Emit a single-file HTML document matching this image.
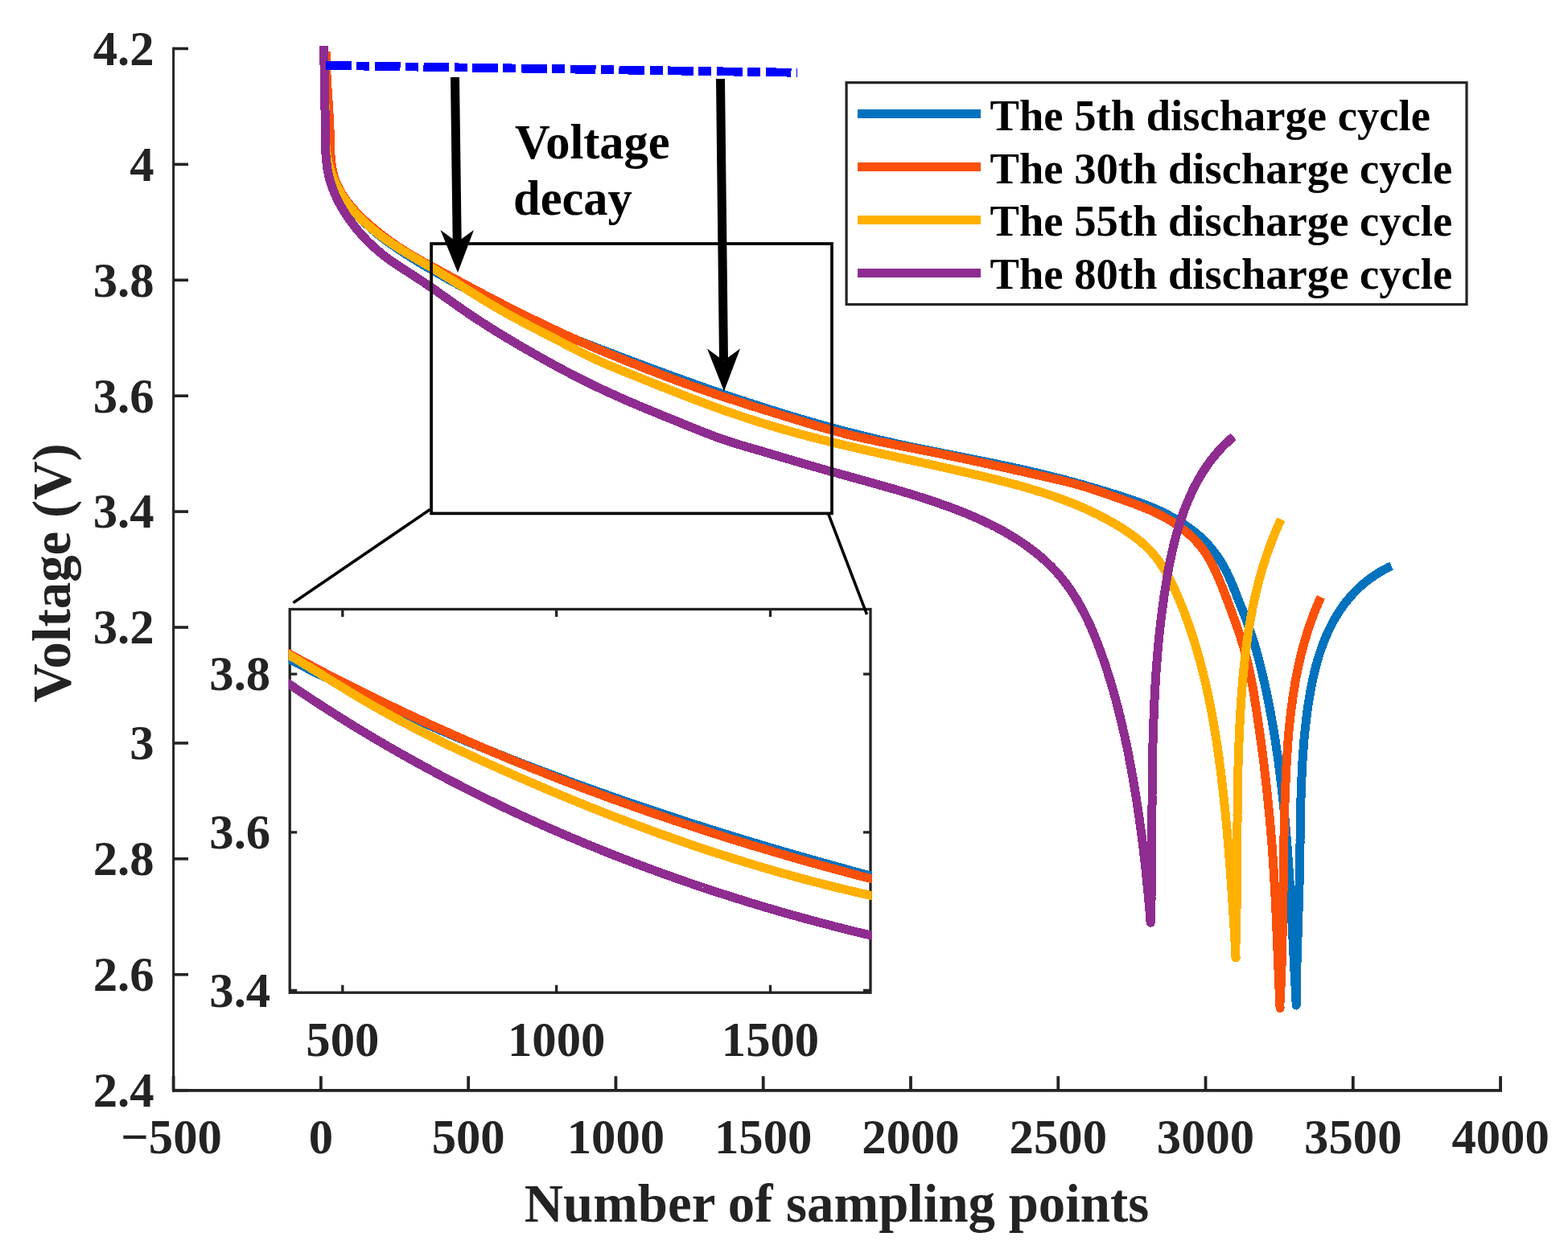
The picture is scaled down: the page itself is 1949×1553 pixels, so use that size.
<!DOCTYPE html>
<html><head><meta charset="utf-8"><title>Voltage decay plot</title>
<style>html,body{margin:0;padding:0;background:#fff;} svg{display:block;}</style>
</head><body>
<svg width="1949" height="1553" viewBox="0 0 1949 1553"><g stroke="#232323" fill="none">
<path d="M215.6,58.650000000000006V1357.6000000000001" stroke-width="3.0"/>
<path d="M214.1,1355.9H1867.0" stroke-width="3.8"/>
<path d="M215.6,60.45H234.0" stroke-width="3.6"/>
<path d="M215.6,204.37H234.0" stroke-width="3.6"/>
<path d="M215.6,348.28H234.0" stroke-width="3.6"/>
<path d="M215.6,492.20H234.0" stroke-width="3.6"/>
<path d="M215.6,636.12H234.0" stroke-width="3.6"/>
<path d="M215.6,780.03H234.0" stroke-width="3.6"/>
<path d="M215.6,923.95H234.0" stroke-width="3.6"/>
<path d="M215.6,1067.87H234.0" stroke-width="3.6"/>
<path d="M215.6,1211.78H234.0" stroke-width="3.6"/>
<path d="M215.6,1355.70H234.0" stroke-width="3.6"/>
<path d="M215.60,1355.7V1338.1000000000001" stroke-width="3.8"/>
<path d="M398.88,1355.7V1338.1000000000001" stroke-width="3.8"/>
<path d="M582.16,1355.7V1338.1000000000001" stroke-width="3.8"/>
<path d="M765.43,1355.7V1338.1000000000001" stroke-width="3.8"/>
<path d="M948.71,1355.7V1338.1000000000001" stroke-width="3.8"/>
<path d="M1131.99,1355.7V1338.1000000000001" stroke-width="3.8"/>
<path d="M1315.27,1355.7V1338.1000000000001" stroke-width="3.8"/>
<path d="M1498.54,1355.7V1338.1000000000001" stroke-width="3.8"/>
<path d="M1681.82,1355.7V1338.1000000000001" stroke-width="3.8"/>
<path d="M1865.10,1355.7V1338.1000000000001" stroke-width="3.8"/>
</g>
<g font-family="'Liberation Serif', 'Times New Roman', serif" font-weight="bold" font-size="60.7" fill="#232323" text-anchor="end">
<text x="191.6" y="80.8">4.2</text>
<text x="191.6" y="224.7">4</text>
<text x="191.6" y="368.6">3.8</text>
<text x="191.6" y="512.5">3.6</text>
<text x="191.6" y="656.4">3.4</text>
<text x="191.6" y="800.3">3.2</text>
<text x="191.6" y="944.2">3</text>
<text x="191.6" y="1088.2">2.8</text>
<text x="191.6" y="1232.1">2.6</text>
<text x="191.6" y="1376.0">2.4</text>
</g>
<g font-family="'Liberation Serif', 'Times New Roman', serif" font-weight="bold" font-size="60.7" fill="#232323" text-anchor="middle">
<text x="213.1" y="1434.3">−500</text>
<text x="398.9" y="1434.3">0</text>
<text x="582.2" y="1434.3">500</text>
<text x="765.4" y="1434.3">1000</text>
<text x="948.7" y="1434.3">1500</text>
<text x="1132.0" y="1434.3">2000</text>
<text x="1315.3" y="1434.3">2500</text>
<text x="1498.5" y="1434.3">3000</text>
<text x="1681.8" y="1434.3">3500</text>
<text x="1865.1" y="1434.3">4000</text>
</g>
<text x="1040" y="1519" font-family="'Liberation Serif', 'Times New Roman', serif" font-weight="bold" font-size="66.8" fill="#232323" text-anchor="middle">Number of sampling points</text>
<text transform="translate(87.3,712.4) rotate(-90)" x="0" y="0" font-family="'Liberation Serif', 'Times New Roman', serif" font-weight="bold" font-size="66.8" fill="#232323" text-anchor="middle">Voltage (V)</text>
<g fill="none" stroke-width="11" stroke-linejoin="round" stroke-linecap="butt" shape-rendering="crispEdges">
<path stroke="#0072BD" d="M403.3,70.0 L403.5,74.0 L403.7,78.0 L403.8,82.0 L404.0,86.0 L404.1,90.0 L404.2,94.0 L404.2,98.0 L404.3,102.0 L404.3,106.0 L404.4,110.1 L404.4,114.1 L404.4,118.1 L404.4,122.1 L404.4,126.1 L404.4,130.1 L404.4,134.1 L404.4,138.2 L404.5,142.2 L404.5,146.2 L404.6,150.2 L404.6,154.2 L404.7,158.3 L404.8,162.3 L405.0,166.3 L405.1,170.3 L405.3,174.3 L405.5,178.4 L405.8,182.4 L406.1,186.4 L406.5,190.4 L406.9,194.4 L407.4,198.4 L408.1,202.3 L408.8,206.2 L409.7,210.1 L410.8,213.9 L412.0,217.7 L413.3,221.4 L414.8,225.1 L416.4,228.7 L418.1,232.3 L420.0,235.8 L421.9,239.3 L424.0,242.7 L426.2,246.1 L428.5,249.3 L431.0,252.5 L433.5,255.7 L436.1,258.8 L438.7,261.8 L441.4,264.8 L444.2,267.7 L447.0,270.6 L449.8,273.4 L452.7,276.2 L455.6,278.9 L458.6,281.6 L461.6,284.3 L464.6,286.9 L467.7,289.4 L470.8,291.9 L473.9,294.4 L477.1,296.9 L480.3,299.3 L483.5,301.6 L486.8,304.0 L490.1,306.3 L493.4,308.5 L496.7,310.8 L500.0,313.0 L503.4,315.2 L506.8,317.4 L510.2,319.5 L513.6,321.7 L517.0,323.8 L520.4,325.9 L523.9,327.9 L527.3,330.0 L530.8,332.1 L534.2,334.1 L537.7,336.1 L541.2,338.1 L544.7,340.1 L548.2,342.1 L551.6,344.1 L555.1,346.0 L558.6,348.0 L562.1,349.9 L565.7,351.8 L569.2,353.8 L572.7,355.7 L576.2,357.6 L579.8,359.4 L583.3,361.3 L586.8,363.2 L590.4,365.0 L594.0,366.9 L597.5,368.7 L601.1,370.5 L604.7,372.3 L608.2,374.1 L611.8,375.9 L615.4,377.7 L619.0,379.5 L622.6,381.2 L626.2,383.0 L629.8,384.7 L633.4,386.4 L637.1,388.2 L640.7,389.9 L644.3,391.6 L648.0,393.3 L651.6,395.0 L655.3,396.6 L658.9,398.3 L662.6,399.9 L666.2,401.6 L669.9,403.2 L673.6,404.8 L677.2,406.4 L680.9,408.0 L684.6,409.6 L688.3,411.1 L692.0,412.7 L695.7,414.2 L699.4,415.7 L703.1,417.3 L706.9,418.8 L710.6,420.2 L714.3,421.7 L718.0,423.2 L721.8,424.7 L725.5,426.1 L729.2,427.6 L733.0,429.0 L736.7,430.5 L740.5,431.9 L744.2,433.3 L747.9,434.8 L751.7,436.2 L755.4,437.6 L759.2,439.1 L762.9,440.5 L766.7,441.9 L770.4,443.4 L774.2,444.8 L777.9,446.2 L781.7,447.6 L785.4,449.0 L789.2,450.5 L792.9,451.9 L796.7,453.3 L800.4,454.7 L804.2,456.1 L808.0,457.5 L811.7,458.9 L815.5,460.3 L819.3,461.7 L823.0,463.1 L826.8,464.4 L830.6,465.8 L834.3,467.2 L838.1,468.6 L841.9,469.9 L845.6,471.3 L849.4,472.7 L853.2,474.0 L857.0,475.4 L860.8,476.7 L864.5,478.1 L868.3,479.4 L872.1,480.8 L875.9,482.1 L879.7,483.4 L883.5,484.7 L887.3,486.1 L891.0,487.4 L894.8,488.7 L898.6,490.0 L902.4,491.3 L906.2,492.6 L910.0,493.8 L913.8,495.1 L917.6,496.4 L921.5,497.7 L925.3,498.9 L929.1,500.2 L932.9,501.4 L936.7,502.7 L940.5,503.9 L944.3,505.2 L948.1,506.4 L952.0,507.6 L955.8,508.8 L959.6,510.0 L963.4,511.2 L967.3,512.4 L971.1,513.6 L974.9,514.8 L978.8,515.9 L982.6,517.1 L986.4,518.3 L990.3,519.4 L994.1,520.6 L998.0,521.7 L1001.8,522.8 L1005.7,523.9 L1009.5,525.0 L1013.4,526.1 L1017.2,527.2 L1021.1,528.3 L1025.0,529.4 L1028.8,530.5 L1032.7,531.5 L1036.6,532.6 L1040.4,533.6 L1044.3,534.7 L1048.2,535.7 L1052.0,536.7 L1055.9,537.7 L1059.8,538.7 L1063.7,539.7 L1067.6,540.7 L1071.5,541.6 L1075.4,542.6 L1079.3,543.6 L1083.2,544.5 L1087.1,545.4 L1091.0,546.4 L1094.9,547.3 L1098.8,548.2 L1102.7,549.1 L1106.6,549.9 L1110.5,550.8 L1114.4,551.7 L1118.3,552.5 L1122.3,553.4 L1126.2,554.2 L1130.1,555.1 L1134.0,555.9 L1138.0,556.7 L1141.9,557.5 L1145.8,558.3 L1149.8,559.1 L1153.7,559.9 L1157.6,560.7 L1161.6,561.5 L1165.5,562.3 L1169.4,563.1 L1173.4,563.9 L1177.3,564.6 L1181.3,565.4 L1185.2,566.2 L1189.1,567.0 L1193.1,567.8 L1197.0,568.5 L1201.0,569.3 L1204.9,570.1 L1208.8,570.9 L1212.8,571.7 L1216.7,572.5 L1220.6,573.2 L1224.6,574.0 L1228.5,574.8 L1232.4,575.6 L1236.4,576.4 L1240.3,577.3 L1244.2,578.1 L1248.2,578.9 L1252.1,579.7 L1256.0,580.6 L1259.9,581.4 L1263.8,582.3 L1267.8,583.1 L1271.7,584.0 L1275.6,584.9 L1279.5,585.8 L1283.4,586.7 L1287.3,587.6 L1291.2,588.5 L1295.1,589.4 L1299.0,590.4 L1302.9,591.3 L1306.8,592.3 L1310.7,593.3 L1314.5,594.3 L1318.4,595.3 L1322.3,596.3 L1326.2,597.3 L1330.0,598.4 L1333.9,599.4 L1337.8,600.5 L1341.6,601.6 L1345.5,602.6 L1349.3,603.7 L1353.2,604.9 L1357.0,606.0 L1360.9,607.1 L1364.7,608.3 L1368.6,609.4 L1372.4,610.6 L1376.2,611.7 L1380.1,612.9 L1383.9,614.1 L1387.7,615.3 L1391.6,616.5 L1395.4,617.8 L1399.2,619.0 L1403.0,620.3 L1406.8,621.5 L1410.6,622.8 L1414.4,624.2 L1418.1,625.5 L1421.9,626.9 L1425.6,628.4 L1429.4,629.9 L1433.1,631.4 L1436.7,633.0 L1440.4,634.6 L1444.0,636.3 L1447.6,638.1 L1451.2,639.9 L1454.7,641.8 L1458.2,643.7 L1461.7,645.7 L1465.2,647.8 L1468.6,649.9 L1471.9,652.1 L1475.3,654.4 L1478.5,656.7 L1481.8,659.1 L1484.9,661.6 L1488.1,664.2 L1491.1,666.8 L1494.0,669.5 L1496.9,672.3 L1499.7,675.2 L1502.4,678.1 L1505.0,681.1 L1507.6,684.2 L1510.0,687.4 L1512.4,690.6 L1514.7,693.9 L1516.8,697.2 L1518.9,700.6 L1520.9,704.1 L1522.9,707.6 L1524.7,711.1 L1526.4,714.7 L1528.1,718.4 L1529.7,722.0 L1531.3,725.7 L1532.8,729.5 L1534.3,733.2 L1535.8,736.9 L1537.3,740.7 L1538.7,744.4 L1540.2,748.1 L1541.7,751.9 L1543.2,755.6 L1544.7,759.3 L1546.2,763.1 L1547.6,766.8 L1549.1,770.6 L1550.5,774.3 L1551.8,778.1 L1553.1,781.9 L1554.4,785.7 L1555.7,789.5 L1556.9,793.3 L1558.1,797.1 L1559.3,801.0 L1560.4,804.8 L1561.5,808.7 L1562.6,812.5 L1563.7,816.4 L1564.7,820.3 L1565.7,824.2 L1566.7,828.1 L1567.6,832.0 L1568.6,835.9 L1569.5,839.8 L1570.4,843.7 L1571.3,847.6 L1572.2,851.5 L1573.0,855.4 L1573.9,859.4 L1574.7,863.3 L1575.5,867.2 L1576.3,871.1 L1577.1,875.1 L1577.9,879.0 L1578.6,882.9 L1579.4,886.9 L1580.1,890.8 L1580.8,894.8 L1581.5,898.7 L1582.2,902.7 L1582.9,906.6 L1583.5,910.6 L1584.2,914.5 L1584.8,918.5 L1585.4,922.4 L1586.0,926.4 L1586.6,930.4 L1587.2,934.3 L1587.8,938.3 L1588.4,942.3 L1588.9,946.2 L1589.4,950.2 L1590.0,954.2 L1590.5,958.1 L1591.0,962.1 L1591.5,966.1 L1592.0,970.1 L1592.5,974.1 L1592.9,978.0 L1593.4,982.0 L1593.8,986.0 L1594.3,990.0 L1594.7,994.0 L1595.1,998.0 L1595.5,1002.0 L1595.9,1005.9 L1596.3,1009.9 L1596.7,1013.9 L1597.1,1017.9 L1597.4,1021.9 L1597.8,1025.9 L1598.1,1029.9 L1598.5,1033.9 L1598.8,1037.9 L1599.2,1041.9 L1599.5,1045.9 L1599.8,1049.9 L1600.1,1053.9 L1600.4,1057.9 L1600.7,1061.9 L1601.0,1065.9 L1601.3,1069.9 L1601.6,1073.9 L1601.9,1077.9 L1602.1,1081.9 L1602.4,1085.9 L1602.7,1090.0 L1602.9,1094.0 L1603.2,1098.0 L1603.4,1102.0 L1603.7,1106.0 L1603.9,1110.0 L1604.1,1114.0 L1604.4,1118.0 L1604.6,1122.0 L1604.8,1126.0 L1605.0,1130.0 L1605.3,1134.0 L1605.5,1138.1 L1605.7,1142.1 L1605.9,1146.1 L1606.1,1150.1 L1606.3,1154.1 L1606.5,1158.1 L1606.7,1162.1 L1606.9,1166.1 L1607.1,1170.1 L1607.3,1174.1 L1607.5,1178.1 L1607.7,1182.1 L1607.9,1186.1 L1608.1,1190.1 L1608.3,1194.1 L1608.5,1198.2 L1608.7,1202.2 L1608.9,1206.2 L1609.1,1210.2 L1609.3,1214.2 L1609.6,1218.2 L1609.8,1222.2 L1610.0,1226.2 L1610.2,1230.2 L1610.4,1234.1 L1610.6,1238.1 L1610.8,1242.1 L1611.0,1246.1 L1611.2,1250.1 L1611.1,1246.1 L1611.2,1242.1 L1611.2,1238.1 L1611.2,1234.1 L1611.3,1230.1 L1611.4,1226.1 L1611.4,1222.1 L1611.5,1218.1 L1611.6,1214.0 L1611.7,1210.0 L1611.8,1206.0 L1611.9,1202.0 L1612.0,1197.9 L1612.1,1193.9 L1612.2,1189.9 L1612.3,1185.8 L1612.5,1181.8 L1612.6,1177.8 L1612.7,1173.7 L1612.8,1169.7 L1613.0,1165.7 L1613.1,1161.6 L1613.2,1157.6 L1613.4,1153.5 L1613.5,1149.5 L1613.6,1145.4 L1613.8,1141.4 L1613.9,1137.4 L1614.0,1133.3 L1614.2,1129.3 L1614.3,1125.2 L1614.4,1121.2 L1614.5,1117.1 L1614.7,1113.1 L1614.8,1109.1 L1614.9,1105.0 L1615.0,1101.0 L1615.1,1097.0 L1615.2,1092.9 L1615.3,1088.9 L1615.4,1084.9 L1615.5,1080.8 L1615.5,1076.8 L1615.6,1072.8 L1615.7,1068.8 L1615.7,1064.7 L1615.8,1060.7 L1615.9,1056.7 L1615.9,1052.7 L1616.0,1048.7 L1616.0,1044.7 L1616.1,1040.6 L1616.2,1036.6 L1616.2,1032.6 L1616.3,1028.6 L1616.3,1024.6 L1616.4,1020.6 L1616.5,1016.6 L1616.6,1012.6 L1616.6,1008.5 L1616.7,1004.5 L1616.8,1000.5 L1616.9,996.5 L1617.0,992.5 L1617.2,988.5 L1617.3,984.5 L1617.4,980.5 L1617.6,976.5 L1617.7,972.5 L1617.9,968.5 L1618.1,964.4 L1618.2,960.4 L1618.4,956.4 L1618.7,952.4 L1618.9,948.4 L1619.1,944.4 L1619.4,940.4 L1619.7,936.4 L1620.0,932.3 L1620.3,928.3 L1620.6,924.3 L1620.9,920.3 L1621.3,916.3 L1621.7,912.2 L1622.1,908.2 L1622.5,904.2 L1623.0,900.1 L1623.4,896.1 L1623.9,892.1 L1624.4,888.0 L1625.0,884.0 L1625.5,880.0 L1626.1,875.9 L1626.8,871.9 L1627.4,867.9 L1628.1,863.8 L1628.8,859.8 L1629.5,855.8 L1630.3,851.8 L1631.1,847.8 L1632.0,843.8 L1632.9,839.8 L1633.8,835.8 L1634.8,831.9 L1635.8,828.0 L1636.9,824.1 L1638.0,820.2 L1639.1,816.3 L1640.3,812.5 L1641.6,808.7 L1642.9,804.9 L1644.3,801.1 L1645.7,797.4 L1647.2,793.7 L1648.8,790.0 L1650.4,786.4 L1652.1,782.8 L1653.8,779.2 L1655.6,775.7 L1657.5,772.2 L1659.4,768.8 L1661.4,765.4 L1663.5,762.1 L1665.7,758.7 L1667.9,755.5 L1670.2,752.3 L1672.6,749.1 L1675.1,746.0 L1677.6,743.0 L1680.3,740.0 L1683.0,737.1 L1685.8,734.2 L1688.6,731.4 L1691.6,728.7 L1694.6,726.0 L1697.8,723.4 L1701.0,720.9 L1704.3,718.5 L1707.6,716.1 L1711.1,713.8 L1714.6,711.6 L1718.2,709.5 L1722.0,707.5 L1725.8,705.5 L1729.6,703.7"/>
<path stroke="#FA500A" d="M405.2,64.5 L405.3,68.5 L405.3,72.5 L405.4,76.5 L405.5,80.5 L405.7,84.6 L405.9,88.6 L406.0,92.6 L406.2,96.6 L406.5,100.6 L406.7,104.6 L406.9,108.6 L407.2,112.6 L407.4,116.6 L407.7,120.6 L408.0,124.6 L408.2,128.6 L408.5,132.6 L408.7,136.6 L409.0,140.6 L409.2,144.6 L409.4,148.6 L409.6,152.6 L409.8,156.6 L410.0,160.7 L410.1,164.7 L410.3,168.7 L410.4,172.7 L410.5,176.8 L410.5,180.8 L410.7,184.8 L410.8,188.9 L411.0,192.9 L411.3,196.9 L411.7,200.9 L412.2,204.9 L412.8,208.8 L413.6,212.7 L414.5,216.5 L415.6,220.4 L416.8,224.1 L418.3,227.8 L419.9,231.4 L421.7,235.0 L423.6,238.5 L425.7,241.9 L427.9,245.3 L430.2,248.6 L432.6,251.8 L435.2,255.0 L437.7,258.1 L440.4,261.1 L443.1,264.0 L445.9,266.9 L448.7,269.8 L451.6,272.6 L454.6,275.3 L457.5,278.0 L460.5,280.6 L463.6,283.2 L466.7,285.8 L469.8,288.3 L472.9,290.8 L476.1,293.2 L479.3,295.7 L482.5,298.1 L485.7,300.4 L489.0,302.7 L492.3,305.0 L495.6,307.2 L499.0,309.4 L502.4,311.6 L505.8,313.7 L509.2,315.8 L512.6,317.8 L516.1,319.8 L519.6,321.8 L523.1,323.8 L526.6,325.8 L530.1,327.7 L533.6,329.6 L537.1,331.6 L540.7,333.5 L544.2,335.4 L547.7,337.3 L551.3,339.3 L554.8,341.2 L558.3,343.1 L561.9,345.0 L565.4,346.9 L568.9,348.8 L572.5,350.7 L576.0,352.6 L579.5,354.5 L583.1,356.4 L586.6,358.3 L590.2,360.2 L593.7,362.1 L597.3,363.9 L600.8,365.8 L604.4,367.7 L607.9,369.5 L611.5,371.4 L615.0,373.2 L618.6,375.1 L622.1,376.9 L625.7,378.8 L629.3,380.6 L632.9,382.4 L636.4,384.2 L640.0,386.0 L643.6,387.8 L647.2,389.6 L650.8,391.4 L654.4,393.2 L658.0,395.0 L661.6,396.8 L665.2,398.5 L668.8,400.3 L672.4,402.0 L676.0,403.8 L679.6,405.5 L683.2,407.2 L686.9,408.9 L690.5,410.6 L694.1,412.3 L697.8,414.0 L701.4,415.7 L705.1,417.4 L708.7,419.0 L712.4,420.7 L716.1,422.3 L719.7,423.9 L723.4,425.6 L727.1,427.2 L730.8,428.8 L734.4,430.4 L738.1,431.9 L741.8,433.5 L745.5,435.1 L749.2,436.6 L752.9,438.2 L756.6,439.7 L760.3,441.2 L764.0,442.7 L767.7,444.3 L771.5,445.8 L775.2,447.3 L778.9,448.8 L782.6,450.3 L786.3,451.8 L790.1,453.2 L793.8,454.7 L797.5,456.2 L801.2,457.7 L805.0,459.2 L808.7,460.6 L812.4,462.1 L816.2,463.5 L819.9,465.0 L823.7,466.4 L827.4,467.8 L831.2,469.3 L834.9,470.7 L838.7,472.1 L842.4,473.5 L846.2,474.9 L850.0,476.3 L853.7,477.6 L857.5,479.0 L861.3,480.3 L865.1,481.7 L868.9,483.0 L872.7,484.3 L876.4,485.6 L880.2,487.0 L884.0,488.2 L887.8,489.5 L891.6,490.8 L895.4,492.1 L899.2,493.4 L903.1,494.6 L906.9,495.9 L910.7,497.1 L914.5,498.3 L918.3,499.6 L922.1,500.8 L926.0,502.0 L929.8,503.2 L933.6,504.5 L937.4,505.7 L941.3,506.9 L945.1,508.1 L948.9,509.3 L952.8,510.5 L956.6,511.7 L960.4,512.8 L964.3,514.0 L968.1,515.2 L971.9,516.4 L975.8,517.6 L979.6,518.8 L983.4,519.9 L987.3,521.1 L991.1,522.3 L995.0,523.5 L998.8,524.6 L1002.6,525.8 L1006.5,527.0 L1010.3,528.1 L1014.2,529.3 L1018.0,530.4 L1021.9,531.5 L1025.7,532.6 L1029.6,533.7 L1033.5,534.8 L1037.3,535.9 L1041.2,536.9 L1045.1,537.9 L1049.0,539.0 L1052.8,540.0 L1056.7,540.9 L1060.6,541.9 L1064.5,542.8 L1068.4,543.8 L1072.3,544.6 L1076.3,545.5 L1080.2,546.4 L1084.1,547.2 L1088.0,548.1 L1091.9,548.9 L1095.9,549.7 L1099.8,550.5 L1103.7,551.3 L1107.7,552.1 L1111.6,552.9 L1115.6,553.7 L1119.5,554.4 L1123.4,555.2 L1127.4,556.0 L1131.3,556.7 L1135.3,557.5 L1139.2,558.3 L1143.1,559.1 L1147.1,559.9 L1151.0,560.7 L1155.0,561.4 L1158.9,562.2 L1162.8,563.0 L1166.8,563.8 L1170.7,564.7 L1174.6,565.5 L1178.5,566.3 L1182.5,567.1 L1186.4,567.9 L1190.3,568.8 L1194.3,569.6 L1198.2,570.4 L1202.1,571.3 L1206.0,572.1 L1209.9,573.0 L1213.9,573.8 L1217.8,574.6 L1221.7,575.5 L1225.6,576.4 L1229.6,577.2 L1233.5,578.1 L1237.4,578.9 L1241.3,579.8 L1245.2,580.7 L1249.1,581.5 L1253.1,582.4 L1257.0,583.3 L1260.9,584.2 L1264.8,585.0 L1268.7,585.9 L1272.6,586.8 L1276.5,587.7 L1280.5,588.6 L1284.4,589.4 L1288.3,590.3 L1292.2,591.2 L1296.1,592.1 L1300.0,593.0 L1303.9,593.9 L1307.8,594.8 L1311.7,595.7 L1315.7,596.6 L1319.6,597.5 L1323.5,598.5 L1327.3,599.4 L1331.2,600.4 L1335.1,601.5 L1339.0,602.6 L1342.8,603.7 L1346.7,604.8 L1350.5,606.0 L1354.4,607.2 L1358.2,608.4 L1362.0,609.7 L1365.8,611.0 L1369.7,612.3 L1373.5,613.6 L1377.3,614.9 L1381.0,616.2 L1384.8,617.6 L1388.6,618.9 L1392.4,620.2 L1396.2,621.6 L1399.9,622.9 L1403.7,624.2 L1407.4,625.6 L1411.2,627.0 L1414.9,628.4 L1418.6,629.8 L1422.3,631.3 L1426.0,632.8 L1429.7,634.4 L1433.3,636.1 L1437.0,637.8 L1440.6,639.5 L1444.2,641.4 L1447.8,643.3 L1451.3,645.3 L1454.8,647.4 L1458.3,649.5 L1461.7,651.8 L1465.0,654.1 L1468.3,656.5 L1471.5,658.9 L1474.7,661.5 L1477.7,664.1 L1480.7,666.8 L1483.6,669.6 L1486.4,672.5 L1489.0,675.4 L1491.6,678.4 L1494.0,681.6 L1496.4,684.8 L1498.6,688.0 L1500.7,691.4 L1502.8,694.8 L1504.7,698.2 L1506.6,701.8 L1508.4,705.3 L1510.2,708.9 L1511.9,712.6 L1513.5,716.3 L1515.1,720.0 L1516.6,723.7 L1518.2,727.4 L1519.7,731.2 L1521.1,735.0 L1522.6,738.8 L1524.0,742.5 L1525.5,746.3 L1526.9,750.1 L1528.3,753.9 L1529.7,757.6 L1531.1,761.4 L1532.5,765.2 L1533.9,769.0 L1535.3,772.7 L1536.6,776.5 L1537.9,780.3 L1539.2,784.1 L1540.5,787.9 L1541.7,791.7 L1542.9,795.5 L1544.1,799.3 L1545.3,803.1 L1546.4,807.0 L1547.4,810.8 L1548.5,814.7 L1549.5,818.5 L1550.4,822.4 L1551.4,826.3 L1552.2,830.2 L1553.1,834.1 L1553.9,838.0 L1554.7,842.0 L1555.5,845.9 L1556.2,849.9 L1557.0,853.8 L1557.7,857.8 L1558.3,861.7 L1559.0,865.7 L1559.6,869.7 L1560.3,873.7 L1560.9,877.6 L1561.5,881.6 L1562.1,885.6 L1562.7,889.6 L1563.3,893.5 L1563.9,897.5 L1564.5,901.5 L1565.0,905.5 L1565.6,909.5 L1566.2,913.4 L1566.7,917.4 L1567.3,921.4 L1567.8,925.4 L1568.3,929.4 L1568.8,933.3 L1569.4,937.3 L1569.9,941.3 L1570.4,945.3 L1570.9,949.3 L1571.4,953.3 L1571.8,957.2 L1572.3,961.2 L1572.8,965.2 L1573.2,969.2 L1573.7,973.2 L1574.1,977.2 L1574.6,981.1 L1575.0,985.1 L1575.4,989.1 L1575.8,993.1 L1576.2,997.1 L1576.6,1001.1 L1577.0,1005.1 L1577.4,1009.1 L1577.8,1013.1 L1578.2,1017.1 L1578.5,1021.1 L1578.9,1025.0 L1579.2,1029.0 L1579.6,1033.0 L1579.9,1037.0 L1580.2,1041.0 L1580.5,1045.0 L1580.9,1049.0 L1581.2,1053.0 L1581.5,1057.0 L1581.7,1061.0 L1582.0,1065.0 L1582.3,1069.0 L1582.6,1073.0 L1582.8,1077.1 L1583.1,1081.1 L1583.3,1085.1 L1583.6,1089.1 L1583.8,1093.1 L1584.0,1097.1 L1584.3,1101.1 L1584.5,1105.1 L1584.7,1109.1 L1584.9,1113.1 L1585.1,1117.1 L1585.3,1121.1 L1585.5,1125.2 L1585.7,1129.2 L1585.9,1133.2 L1586.1,1137.2 L1586.3,1141.2 L1586.5,1145.2 L1586.6,1149.2 L1586.8,1153.2 L1587.0,1157.3 L1587.2,1161.3 L1587.3,1165.3 L1587.5,1169.3 L1587.7,1173.3 L1587.8,1177.3 L1588.0,1181.3 L1588.2,1185.3 L1588.3,1189.4 L1588.5,1193.4 L1588.7,1197.4 L1588.8,1201.4 L1589.0,1205.4 L1589.2,1209.4 L1589.3,1213.4 L1589.5,1217.4 L1589.7,1221.4 L1589.8,1225.4 L1590.0,1229.4 L1590.2,1233.5 L1590.3,1237.5 L1590.5,1241.5 L1590.7,1245.5 L1590.9,1249.5 L1591.1,1253.5 L1590.9,1249.4 L1591.1,1245.4 L1591.3,1241.4 L1591.5,1237.3 L1591.7,1233.3 L1591.9,1229.3 L1592.1,1225.2 L1592.3,1221.2 L1592.5,1217.2 L1592.6,1213.1 L1592.8,1209.1 L1592.9,1205.1 L1593.0,1201.1 L1593.2,1197.0 L1593.3,1193.0 L1593.4,1189.0 L1593.5,1184.9 L1593.7,1180.9 L1593.8,1176.8 L1593.9,1172.8 L1593.9,1168.8 L1594.0,1164.7 L1594.1,1160.7 L1594.2,1156.7 L1594.3,1152.6 L1594.4,1148.6 L1594.4,1144.6 L1594.5,1140.5 L1594.6,1136.5 L1594.6,1132.5 L1594.7,1128.4 L1594.7,1124.4 L1594.8,1120.3 L1594.8,1116.3 L1594.9,1112.3 L1595.0,1108.2 L1595.0,1104.2 L1595.1,1100.2 L1595.1,1096.1 L1595.2,1092.1 L1595.2,1088.0 L1595.3,1084.0 L1595.3,1080.0 L1595.4,1075.9 L1595.4,1071.9 L1595.5,1067.8 L1595.6,1063.8 L1595.6,1059.8 L1595.7,1055.7 L1595.7,1051.7 L1595.8,1047.6 L1595.9,1043.6 L1596.0,1039.6 L1596.0,1035.5 L1596.1,1031.5 L1596.2,1027.4 L1596.3,1023.4 L1596.4,1019.4 L1596.5,1015.3 L1596.6,1011.3 L1596.7,1007.2 L1596.9,1003.2 L1597.0,999.1 L1597.1,995.1 L1597.3,991.1 L1597.4,987.0 L1597.6,983.0 L1597.7,978.9 L1597.9,974.9 L1598.1,970.9 L1598.2,966.8 L1598.4,962.8 L1598.6,958.7 L1598.8,954.7 L1599.1,950.6 L1599.3,946.6 L1599.5,942.6 L1599.8,938.5 L1600.1,934.5 L1600.3,930.4 L1600.6,926.4 L1600.9,922.4 L1601.3,918.3 L1601.6,914.3 L1601.9,910.3 L1602.3,906.3 L1602.7,902.2 L1603.1,898.2 L1603.5,894.2 L1604.0,890.2 L1604.4,886.2 L1604.9,882.2 L1605.4,878.2 L1606.0,874.2 L1606.5,870.2 L1607.1,866.2 L1607.7,862.2 L1608.3,858.2 L1609.0,854.3 L1609.6,850.3 L1610.3,846.3 L1611.1,842.4 L1611.8,838.4 L1612.6,834.5 L1613.4,830.6 L1614.3,826.6 L1615.1,822.7 L1616.1,818.8 L1617.0,814.9 L1618.0,811.0 L1619.0,807.1 L1620.0,803.2 L1621.1,799.3 L1622.2,795.5 L1623.4,791.6 L1624.5,787.8 L1625.8,783.9 L1627.0,780.1 L1628.3,776.3 L1629.7,772.4 L1631.0,768.6 L1632.5,764.8 L1633.9,761.1 L1635.4,757.3 L1637.0,753.5 L1638.6,749.8 L1640.2,746.0 L1641.9,742.3"/>
<path stroke="#FFB000" d="M402.3,58.0 L402.5,62.0 L402.6,66.1 L402.8,70.1 L402.9,74.1 L403.0,78.1 L403.1,82.1 L403.2,86.1 L403.3,90.1 L403.4,94.1 L403.5,98.1 L403.6,102.1 L403.6,106.1 L403.7,110.1 L403.8,114.1 L403.8,118.1 L403.9,122.1 L403.9,126.1 L404.0,130.1 L404.0,134.1 L404.1,138.1 L404.1,142.2 L404.1,146.2 L404.2,150.2 L404.2,154.3 L404.2,158.3 L404.3,162.4 L404.4,166.4 L404.5,170.5 L404.7,174.5 L404.9,178.6 L405.2,182.6 L405.6,186.6 L406.1,190.5 L406.7,194.5 L407.4,198.4 L408.2,202.3 L409.1,206.2 L410.2,210.0 L411.4,213.9 L412.7,217.6 L414.1,221.3 L415.7,225.0 L417.3,228.6 L419.1,232.2 L421.0,235.8 L422.9,239.2 L425.0,242.7 L427.1,246.0 L429.4,249.3 L431.7,252.6 L434.1,255.7 L436.6,258.8 L439.2,261.9 L441.8,264.9 L444.6,267.8 L447.4,270.7 L450.2,273.5 L453.1,276.3 L456.1,279.0 L459.1,281.7 L462.2,284.3 L465.3,286.9 L468.5,289.4 L471.7,291.9 L474.9,294.3 L478.2,296.7 L481.5,299.0 L484.8,301.3 L488.1,303.6 L491.5,305.8 L494.9,308.0 L498.3,310.2 L501.7,312.3 L505.1,314.3 L508.5,316.4 L511.9,318.5 L515.3,320.5 L518.8,322.5 L522.2,324.5 L525.6,326.5 L529.1,328.5 L532.5,330.5 L536.0,332.5 L539.4,334.6 L542.8,336.6 L546.2,338.7 L549.6,340.8 L553.1,342.9 L556.5,345.0 L559.9,347.1 L563.3,349.2 L566.7,351.4 L570.1,353.5 L573.5,355.6 L576.9,357.8 L580.3,359.9 L583.7,362.1 L587.1,364.2 L590.5,366.3 L594.0,368.5 L597.4,370.6 L600.8,372.7 L604.2,374.8 L607.7,376.9 L611.1,378.9 L614.6,381.0 L618.1,383.0 L621.5,385.0 L625.0,387.0 L628.5,389.0 L632.0,391.0 L635.5,392.9 L639.1,394.8 L642.6,396.7 L646.1,398.6 L649.7,400.5 L653.2,402.4 L656.7,404.3 L660.3,406.1 L663.9,408.0 L667.4,409.8 L671.0,411.6 L674.5,413.5 L678.1,415.3 L681.7,417.1 L685.2,419.0 L688.8,420.8 L692.4,422.6 L695.9,424.5 L699.5,426.3 L703.1,428.2 L706.6,430.0 L710.2,431.9 L713.8,433.7 L717.3,435.6 L720.9,437.4 L724.5,439.2 L728.1,441.0 L731.7,442.8 L735.3,444.5 L738.9,446.2 L742.6,447.9 L746.2,449.6 L749.9,451.2 L753.6,452.8 L757.2,454.4 L760.9,455.9 L764.6,457.4 L768.4,459.0 L772.1,460.5 L775.8,462.0 L779.5,463.5 L783.2,465.0 L787.0,466.5 L790.7,468.0 L794.4,469.5 L798.1,471.0 L801.8,472.5 L805.6,474.0 L809.3,475.5 L813.0,477.0 L816.7,478.5 L820.5,480.0 L824.2,481.5 L827.9,482.9 L831.7,484.4 L835.4,485.9 L839.1,487.4 L842.9,488.8 L846.6,490.3 L850.3,491.7 L854.1,493.2 L857.8,494.6 L861.6,496.1 L865.3,497.5 L869.1,498.9 L872.8,500.3 L876.6,501.7 L880.4,503.1 L884.1,504.5 L887.9,505.9 L891.7,507.3 L895.4,508.6 L899.2,510.0 L903.0,511.3 L906.8,512.6 L910.6,513.9 L914.4,515.3 L918.2,516.5 L922.0,517.8 L925.8,519.1 L929.6,520.4 L933.4,521.6 L937.2,522.8 L941.0,524.1 L944.8,525.3 L948.7,526.4 L952.5,527.6 L956.4,528.8 L960.2,529.9 L964.1,531.1 L967.9,532.2 L971.8,533.3 L975.6,534.4 L979.5,535.5 L983.4,536.6 L987.2,537.7 L991.1,538.7 L995.0,539.8 L998.9,540.8 L1002.7,541.9 L1006.6,542.9 L1010.5,543.9 L1014.4,544.9 L1018.3,545.9 L1022.2,546.9 L1026.1,547.8 L1030.0,548.8 L1033.9,549.8 L1037.8,550.7 L1041.7,551.7 L1045.6,552.6 L1049.5,553.5 L1053.4,554.5 L1057.3,555.4 L1061.2,556.3 L1065.1,557.2 L1069.0,558.1 L1072.9,559.0 L1076.8,559.9 L1080.8,560.8 L1084.7,561.7 L1088.6,562.5 L1092.5,563.4 L1096.4,564.3 L1100.3,565.2 L1104.2,566.0 L1108.1,566.9 L1112.1,567.7 L1116.0,568.6 L1119.9,569.5 L1123.8,570.3 L1127.7,571.2 L1131.6,572.0 L1135.5,572.9 L1139.5,573.8 L1143.4,574.6 L1147.3,575.5 L1151.2,576.3 L1155.1,577.2 L1159.0,578.1 L1163.0,578.9 L1166.9,579.8 L1170.8,580.7 L1174.7,581.5 L1178.6,582.4 L1182.5,583.3 L1186.4,584.2 L1190.4,585.1 L1194.3,585.9 L1198.2,586.8 L1202.1,587.7 L1206.0,588.7 L1209.9,589.6 L1213.9,590.5 L1217.8,591.4 L1221.7,592.3 L1225.6,593.3 L1229.5,594.2 L1233.4,595.2 L1237.3,596.1 L1241.2,597.1 L1245.1,598.1 L1249.0,599.1 L1252.9,600.1 L1256.8,601.1 L1260.7,602.2 L1264.6,603.2 L1268.5,604.3 L1272.3,605.4 L1276.2,606.5 L1280.1,607.6 L1283.9,608.8 L1287.8,609.9 L1291.6,611.1 L1295.4,612.3 L1299.2,613.6 L1303.0,614.8 L1306.8,616.1 L1310.6,617.4 L1314.4,618.8 L1318.2,620.1 L1321.9,621.5 L1325.7,622.9 L1329.4,624.4 L1333.1,625.8 L1336.9,627.3 L1340.5,628.9 L1344.2,630.5 L1347.9,632.1 L1351.5,633.7 L1355.2,635.4 L1358.8,637.1 L1362.4,638.8 L1366.0,640.6 L1369.6,642.5 L1373.1,644.3 L1376.6,646.2 L1380.2,648.2 L1383.7,650.2 L1387.1,652.2 L1390.6,654.3 L1394.0,656.4 L1397.4,658.6 L1400.8,660.8 L1404.2,663.1 L1407.4,665.4 L1410.7,667.8 L1413.9,670.3 L1417.0,672.8 L1420.0,675.4 L1423.0,678.1 L1425.9,680.8 L1428.7,683.7 L1431.4,686.6 L1434.0,689.6 L1436.5,692.7 L1439.0,695.8 L1441.4,699.0 L1443.6,702.3 L1445.8,705.6 L1447.9,709.0 L1450.0,712.4 L1451.9,715.9 L1453.8,719.5 L1455.6,723.1 L1457.4,726.7 L1459.1,730.3 L1460.7,734.0 L1462.3,737.7 L1463.9,741.4 L1465.5,745.1 L1467.0,748.8 L1468.5,752.6 L1470.0,756.3 L1471.5,760.1 L1472.9,763.8 L1474.3,767.6 L1475.7,771.4 L1477.0,775.2 L1478.3,779.0 L1479.6,782.8 L1480.9,786.6 L1482.2,790.4 L1483.4,794.2 L1484.6,798.1 L1485.8,801.9 L1486.9,805.7 L1488.1,809.6 L1489.2,813.4 L1490.3,817.3 L1491.3,821.1 L1492.4,825.0 L1493.4,828.9 L1494.4,832.8 L1495.4,836.7 L1496.3,840.5 L1497.3,844.4 L1498.2,848.3 L1499.1,852.2 L1500.0,856.1 L1500.8,860.1 L1501.7,864.0 L1502.5,867.9 L1503.3,871.8 L1504.1,875.7 L1504.9,879.7 L1505.6,883.6 L1506.4,887.6 L1507.1,891.5 L1507.8,895.4 L1508.5,899.4 L1509.2,903.4 L1509.8,907.3 L1510.5,911.3 L1511.1,915.2 L1511.7,919.2 L1512.4,923.2 L1512.9,927.1 L1513.5,931.1 L1514.1,935.1 L1514.7,939.1 L1515.2,943.0 L1515.7,947.0 L1516.3,951.0 L1516.8,955.0 L1517.3,959.0 L1517.8,963.0 L1518.3,966.9 L1518.7,970.9 L1519.2,974.9 L1519.7,978.9 L1520.1,982.9 L1520.6,986.9 L1521.0,990.9 L1521.4,994.9 L1521.8,998.9 L1522.3,1002.9 L1522.7,1006.9 L1523.1,1010.9 L1523.5,1014.9 L1523.8,1018.9 L1524.2,1022.9 L1524.6,1026.9 L1525.0,1030.9 L1525.3,1034.9 L1525.7,1038.9 L1526.0,1042.8 L1526.4,1046.8 L1526.7,1050.8 L1527.1,1054.8 L1527.4,1058.8 L1527.7,1062.8 L1528.0,1066.8 L1528.4,1070.8 L1528.7,1074.8 L1529.0,1078.8 L1529.3,1082.8 L1529.6,1086.8 L1529.9,1090.8 L1530.2,1094.8 L1530.4,1098.9 L1530.7,1102.9 L1531.0,1106.9 L1531.3,1110.9 L1531.5,1114.9 L1531.8,1118.9 L1532.1,1122.9 L1532.3,1126.9 L1532.6,1130.9 L1532.8,1134.9 L1533.1,1138.9 L1533.3,1142.9 L1533.6,1146.9 L1533.8,1150.9 L1534.1,1154.9 L1534.3,1158.9 L1534.5,1162.9 L1534.8,1166.9 L1535.0,1171.0 L1535.2,1175.0 L1535.5,1179.0 L1535.7,1183.0 L1535.9,1187.0 L1536.1,1191.0 L1535.6,1186.9 L1535.7,1182.8 L1535.8,1178.8 L1536.0,1174.8 L1536.1,1170.8 L1536.2,1166.8 L1536.3,1162.8 L1536.4,1158.8 L1536.5,1154.8 L1536.6,1150.7 L1536.7,1146.7 L1536.8,1142.7 L1536.9,1138.7 L1536.9,1134.7 L1537.0,1130.6 L1537.1,1126.6 L1537.1,1122.6 L1537.2,1118.6 L1537.2,1114.5 L1537.3,1110.5 L1537.3,1106.5 L1537.4,1102.5 L1537.4,1098.4 L1537.4,1094.4 L1537.5,1090.4 L1537.5,1086.4 L1537.5,1082.3 L1537.6,1078.3 L1537.6,1074.3 L1537.6,1070.2 L1537.7,1066.2 L1537.7,1062.2 L1537.7,1058.1 L1537.7,1054.1 L1537.8,1050.1 L1537.8,1046.0 L1537.8,1042.0 L1537.8,1038.0 L1537.9,1033.9 L1537.9,1029.9 L1537.9,1025.9 L1538.0,1021.8 L1538.0,1017.8 L1538.0,1013.8 L1538.1,1009.7 L1538.1,1005.7 L1538.2,1001.7 L1538.2,997.6 L1538.3,993.6 L1538.3,989.6 L1538.4,985.5 L1538.5,981.5 L1538.5,977.5 L1538.6,973.4 L1538.7,969.4 L1538.8,965.4 L1538.8,961.3 L1538.9,957.3 L1539.0,953.2 L1539.1,949.2 L1539.3,945.2 L1539.4,941.2 L1539.5,937.1 L1539.6,933.1 L1539.8,929.1 L1539.9,925.0 L1540.1,921.0 L1540.2,917.0 L1540.4,912.9 L1540.6,908.9 L1540.8,904.9 L1541.0,900.8 L1541.2,896.8 L1541.4,892.8 L1541.6,888.8 L1541.8,884.7 L1542.1,880.7 L1542.3,876.7 L1542.6,872.7 L1542.9,868.6 L1543.2,864.6 L1543.5,860.6 L1543.8,856.6 L1544.1,852.6 L1544.4,848.5 L1544.8,844.5 L1545.1,840.5 L1545.5,836.5 L1545.9,832.5 L1546.3,828.5 L1546.7,824.5 L1547.2,820.5 L1547.6,816.5 L1548.1,812.5 L1548.6,808.5 L1549.1,804.5 L1549.6,800.5 L1550.2,796.5 L1550.7,792.5 L1551.3,788.5 L1551.9,784.6 L1552.6,780.6 L1553.2,776.6 L1553.9,772.7 L1554.6,768.7 L1555.3,764.8 L1556.1,760.8 L1556.8,756.9 L1557.6,753.0 L1558.5,749.0 L1559.3,745.1 L1560.2,741.2 L1561.1,737.3 L1562.0,733.4 L1563.0,729.5 L1564.0,725.6 L1565.0,721.7 L1566.0,717.8 L1567.1,714.0 L1568.2,710.1 L1569.4,706.2 L1570.5,702.4 L1571.7,698.6 L1573.0,694.7 L1574.2,690.9 L1575.5,687.1 L1576.9,683.3 L1578.3,679.5 L1579.7,675.7 L1581.1,671.9 L1582.6,668.2 L1584.1,664.4 L1585.7,660.6 L1587.3,656.9 L1588.9,653.2 L1590.6,649.5 L1592.3,645.7"/>
<path stroke="#8E2C90" d="M402.5,56.5 L402.5,60.5 L402.6,64.5 L402.7,68.6 L402.8,72.6 L402.9,76.6 L403.0,80.6 L403.0,84.6 L403.1,88.6 L403.2,92.7 L403.3,96.7 L403.4,100.7 L403.4,104.7 L403.5,108.7 L403.6,112.7 L403.7,116.7 L403.7,120.7 L403.8,124.8 L403.9,128.8 L403.9,132.8 L404.0,136.8 L404.1,140.8 L404.1,144.8 L404.1,148.9 L404.2,152.9 L404.2,156.9 L404.2,161.0 L404.3,165.0 L404.3,169.0 L404.3,173.1 L404.4,177.1 L404.5,181.2 L404.7,185.2 L404.8,189.2 L405.1,193.2 L405.4,197.2 L405.8,201.2 L406.3,205.1 L406.8,209.1 L407.5,213.0 L408.3,216.9 L409.2,220.7 L410.2,224.6 L411.4,228.4 L412.7,232.1 L414.0,235.9 L415.5,239.6 L417.1,243.3 L418.8,246.9 L420.6,250.5 L422.5,254.1 L424.4,257.6 L426.5,261.1 L428.6,264.5 L430.8,267.9 L433.1,271.3 L435.5,274.6 L437.9,277.8 L440.4,281.0 L442.9,284.2 L445.5,287.3 L448.1,290.3 L450.8,293.3 L453.5,296.2 L456.3,299.1 L459.1,301.9 L462.0,304.7 L465.0,307.4 L467.9,310.0 L471.0,312.6 L474.0,315.2 L477.1,317.7 L480.3,320.1 L483.5,322.5 L486.8,324.8 L490.1,327.1 L493.4,329.3 L496.8,331.6 L500.1,333.8 L503.5,336.0 L506.9,338.1 L510.3,340.3 L513.7,342.5 L517.1,344.7 L520.5,346.9 L523.9,349.1 L527.2,351.3 L530.5,353.6 L533.9,355.9 L537.2,358.2 L540.5,360.4 L543.8,362.8 L547.0,365.1 L550.3,367.4 L553.6,369.7 L556.9,372.0 L560.2,374.3 L563.4,376.7 L566.7,379.0 L570.0,381.3 L573.3,383.6 L576.6,385.9 L579.9,388.1 L583.2,390.4 L586.5,392.6 L589.9,394.9 L593.2,397.1 L596.6,399.3 L600.0,401.5 L603.3,403.6 L606.7,405.8 L610.1,407.9 L613.5,410.1 L616.9,412.2 L620.3,414.3 L623.8,416.4 L627.2,418.5 L630.6,420.6 L634.1,422.6 L637.5,424.7 L641.0,426.7 L644.5,428.8 L647.9,430.8 L651.4,432.8 L654.9,434.8 L658.4,436.8 L661.9,438.8 L665.4,440.8 L668.9,442.8 L672.4,444.8 L675.9,446.7 L679.4,448.7 L682.9,450.6 L686.4,452.6 L689.9,454.5 L693.5,456.4 L697.0,458.3 L700.6,460.2 L704.1,462.1 L707.7,463.9 L711.2,465.8 L714.8,467.6 L718.4,469.5 L721.9,471.3 L725.5,473.1 L729.1,474.9 L732.7,476.6 L736.3,478.4 L739.9,480.2 L743.6,481.9 L747.2,483.6 L750.8,485.3 L754.5,487.0 L758.1,488.7 L761.8,490.3 L765.4,492.0 L769.1,493.6 L772.8,495.2 L776.4,496.9 L780.1,498.5 L783.8,500.1 L787.5,501.6 L791.2,503.2 L794.9,504.8 L798.6,506.3 L802.3,507.9 L806.0,509.4 L809.7,511.0 L813.4,512.5 L817.1,514.0 L820.9,515.6 L824.6,517.1 L828.3,518.6 L832.0,520.1 L835.7,521.6 L839.5,523.1 L843.2,524.6 L846.9,526.2 L850.6,527.7 L854.4,529.2 L858.1,530.7 L861.8,532.2 L865.5,533.7 L869.3,535.2 L873.0,536.7 L876.7,538.1 L880.5,539.6 L884.2,541.0 L888.0,542.5 L891.7,543.9 L895.5,545.2 L899.3,546.5 L903.1,547.8 L906.9,549.1 L910.7,550.3 L914.6,551.5 L918.4,552.7 L922.2,553.9 L926.1,555.0 L929.9,556.1 L933.8,557.3 L937.7,558.4 L941.5,559.5 L945.4,560.6 L949.2,561.8 L953.1,562.9 L956.9,564.0 L960.8,565.2 L964.6,566.3 L968.5,567.5 L972.3,568.6 L976.2,569.8 L980.0,570.9 L983.9,572.0 L987.7,573.2 L991.6,574.3 L995.4,575.5 L999.3,576.6 L1003.1,577.7 L1007.0,578.8 L1010.8,580.0 L1014.7,581.1 L1018.5,582.2 L1022.4,583.3 L1026.3,584.4 L1030.1,585.5 L1034.0,586.5 L1037.9,587.6 L1041.7,588.7 L1045.6,589.8 L1049.5,590.9 L1053.4,591.9 L1057.2,593.0 L1061.1,594.1 L1065.0,595.1 L1068.9,596.2 L1072.7,597.3 L1076.6,598.3 L1080.5,599.4 L1084.4,600.5 L1088.2,601.6 L1092.1,602.7 L1096.0,603.8 L1099.8,604.9 L1103.7,606.0 L1107.6,607.1 L1111.4,608.2 L1115.3,609.3 L1119.1,610.5 L1123.0,611.6 L1126.8,612.8 L1130.7,614.0 L1134.5,615.1 L1138.3,616.3 L1142.2,617.6 L1146.0,618.8 L1149.8,620.0 L1153.6,621.3 L1157.4,622.5 L1161.2,623.8 L1165.0,625.1 L1168.8,626.4 L1172.6,627.8 L1176.4,629.1 L1180.2,630.5 L1183.9,631.9 L1187.7,633.3 L1191.4,634.8 L1195.2,636.2 L1198.9,637.7 L1202.6,639.2 L1206.3,640.8 L1210.0,642.4 L1213.7,644.0 L1217.3,645.6 L1221.0,647.3 L1224.6,649.0 L1228.2,650.7 L1231.8,652.5 L1235.4,654.3 L1239.0,656.1 L1242.5,658.0 L1246.1,659.9 L1249.6,661.9 L1253.0,663.9 L1256.5,665.9 L1259.9,668.0 L1263.3,670.1 L1266.7,672.3 L1270.1,674.6 L1273.4,676.8 L1276.7,679.2 L1280.0,681.5 L1283.2,684.0 L1286.4,686.5 L1289.6,689.0 L1292.7,691.6 L1295.8,694.2 L1298.8,696.9 L1301.7,699.6 L1304.6,702.4 L1307.5,705.2 L1310.2,708.1 L1313.0,711.0 L1315.6,714.0 L1318.2,717.0 L1320.7,720.1 L1323.2,723.3 L1325.6,726.4 L1327.9,729.7 L1330.2,732.9 L1332.4,736.2 L1334.6,739.6 L1336.7,742.9 L1338.8,746.3 L1340.8,749.8 L1342.8,753.3 L1344.7,756.8 L1346.6,760.3 L1348.4,763.9 L1350.2,767.5 L1352.0,771.1 L1353.7,774.8 L1355.4,778.4 L1357.0,782.1 L1358.6,785.8 L1360.1,789.6 L1361.7,793.3 L1363.2,797.1 L1364.6,800.9 L1366.0,804.6 L1367.4,808.4 L1368.8,812.3 L1370.2,816.1 L1371.5,819.9 L1372.8,823.7 L1374.1,827.5 L1375.3,831.4 L1376.6,835.2 L1377.8,839.1 L1379.0,842.9 L1380.2,846.7 L1381.3,850.6 L1382.4,854.5 L1383.6,858.3 L1384.7,862.2 L1385.7,866.0 L1386.8,869.9 L1387.8,873.8 L1388.9,877.7 L1389.9,881.5 L1390.8,885.4 L1391.8,889.3 L1392.8,893.2 L1393.7,897.1 L1394.6,901.0 L1395.5,904.9 L1396.4,908.8 L1397.3,912.7 L1398.2,916.6 L1399.0,920.5 L1399.9,924.5 L1400.7,928.4 L1401.5,932.3 L1402.3,936.2 L1403.1,940.2 L1403.8,944.1 L1404.6,948.0 L1405.3,952.0 L1406.1,955.9 L1406.8,959.9 L1407.5,963.8 L1408.2,967.8 L1408.9,971.7 L1409.6,975.7 L1410.2,979.7 L1410.9,983.6 L1411.5,987.6 L1412.2,991.6 L1412.8,995.5 L1413.4,999.5 L1414.0,1003.5 L1414.6,1007.5 L1415.2,1011.4 L1415.8,1015.4 L1416.4,1019.4 L1416.9,1023.4 L1417.5,1027.4 L1418.0,1031.4 L1418.6,1035.3 L1419.1,1039.3 L1419.6,1043.3 L1420.1,1047.3 L1420.6,1051.3 L1421.1,1055.3 L1421.6,1059.3 L1422.0,1063.3 L1422.5,1067.3 L1423.0,1071.3 L1423.4,1075.3 L1423.8,1079.3 L1424.3,1083.3 L1424.7,1087.3 L1425.1,1091.3 L1425.5,1095.3 L1425.9,1099.3 L1426.3,1103.3 L1426.7,1107.3 L1427.1,1111.3 L1427.5,1115.3 L1427.8,1119.3 L1428.2,1123.3 L1428.5,1127.3 L1428.9,1131.3 L1429.2,1135.2 L1429.5,1139.2 L1429.8,1143.2 L1430.2,1147.2 L1430.5,1143.2 L1430.6,1139.2 L1430.7,1135.1 L1430.7,1131.0 L1430.8,1127.0 L1430.9,1122.9 L1431.0,1118.9 L1431.0,1114.8 L1431.1,1110.7 L1431.2,1106.7 L1431.2,1102.6 L1431.3,1098.6 L1431.3,1094.5 L1431.4,1090.5 L1431.4,1086.4 L1431.4,1082.3 L1431.5,1078.3 L1431.5,1074.2 L1431.5,1070.2 L1431.6,1066.1 L1431.6,1062.1 L1431.6,1058.0 L1431.7,1054.0 L1431.7,1049.9 L1431.7,1045.8 L1431.7,1041.8 L1431.7,1037.7 L1431.8,1033.7 L1431.8,1029.6 L1431.8,1025.6 L1431.8,1021.5 L1431.9,1017.5 L1431.9,1013.4 L1431.9,1009.4 L1431.9,1005.3 L1432.0,1001.3 L1432.0,997.2 L1432.0,993.2 L1432.0,989.1 L1432.1,985.1 L1432.1,981.0 L1432.2,977.0 L1432.2,972.9 L1432.3,968.9 L1432.3,964.9 L1432.4,960.8 L1432.4,956.8 L1432.5,952.7 L1432.5,948.7 L1432.6,944.6 L1432.7,940.6 L1432.8,936.5 L1432.9,932.5 L1432.9,928.5 L1433.0,924.4 L1433.2,920.4 L1433.3,916.3 L1433.4,912.3 L1433.5,908.2 L1433.6,904.2 L1433.8,900.2 L1433.9,896.1 L1434.1,892.1 L1434.2,888.0 L1434.4,884.0 L1434.5,880.0 L1434.7,875.9 L1434.9,871.9 L1435.1,867.9 L1435.3,863.8 L1435.5,859.8 L1435.8,855.7 L1436.0,851.7 L1436.2,847.7 L1436.5,843.6 L1436.8,839.6 L1437.0,835.6 L1437.3,831.5 L1437.6,827.5 L1437.9,823.5 L1438.3,819.4 L1438.6,815.4 L1438.9,811.3 L1439.3,807.3 L1439.6,803.3 L1440.0,799.3 L1440.4,795.2 L1440.8,791.2 L1441.2,787.2 L1441.7,783.1 L1442.1,779.1 L1442.6,775.1 L1443.0,771.0 L1443.5,767.0 L1444.0,763.0 L1444.5,758.9 L1445.1,754.9 L1445.6,750.9 L1446.2,746.9 L1446.7,742.8 L1447.3,738.8 L1447.9,734.8 L1448.6,730.7 L1449.2,726.7 L1449.9,722.7 L1450.5,718.7 L1451.2,714.6 L1451.9,710.6 L1452.7,706.6 L1453.4,702.6 L1454.2,698.6 L1455.1,694.6 L1455.9,690.6 L1456.8,686.7 L1457.7,682.7 L1458.6,678.8 L1459.6,674.8 L1460.6,670.9 L1461.6,667.0 L1462.7,663.1 L1463.8,659.2 L1465.0,655.3 L1466.1,651.4 L1467.4,647.6 L1468.6,643.8 L1470.0,640.0 L1471.3,636.2 L1472.7,632.4 L1474.2,628.7 L1475.7,625.0 L1477.3,621.3 L1478.9,617.6 L1480.5,614.0 L1482.2,610.4 L1484.0,606.8 L1485.8,603.2 L1487.7,599.7 L1489.6,596.1 L1491.7,592.7 L1493.7,589.2 L1495.8,585.8 L1498.0,582.5 L1500.3,579.1 L1502.6,575.9 L1505.0,572.6 L1507.5,569.4 L1510.1,566.3 L1512.7,563.2 L1515.4,560.1 L1518.1,557.1 L1521.0,554.2 L1523.9,551.3 L1527.0,548.4 L1530.1,545.6 L1533.2,542.9"/>
</g>
<path d="M405,81.4 L990.8,90.3" stroke="#0000FF" stroke-width="10.8" fill="none" stroke-dasharray="31.8 6.4 16.0 6.55" shape-rendering="crispEdges"/>
<path d="M565.5,96 L568.2,301" stroke="#000" stroke-width="11" fill="none"/><path d="M547.5,286 L568.2,301 L589,286 L569,339Z" fill="#000"/>
<path d="M895.5,98 L899.5,448.5" stroke="#000" stroke-width="11" fill="none"/><path d="M879,433.6 L899.5,448.5 L920,433.6 L900,486.6Z" fill="#000"/>
<g font-family="'Liberation Serif', 'Times New Roman', serif" font-weight="bold" font-size="60.5" fill="#000">
<text x="640" y="196.5">Voltage</text><text x="638" y="266.5">decay</text>
</g>
<rect x="536.1" y="303" width="497.9" height="335.4" fill="none" stroke="#000" stroke-width="3.7"/>
<rect x="360.2" y="757.5" width="721.8" height="476.7" fill="#fff" stroke="none"/>
<g stroke="#232323" stroke-width="3.3" fill="none">
<rect x="360.2" y="757.5" width="721.8" height="476.7"/>
<path d="M425.8,1234.2V1224.7M425.8,757.5V767.0"/>
<path d="M691.65,1234.2V1224.7M691.65,757.5V767.0"/>
<path d="M957.5,1234.2V1224.7M957.5,757.5V767.0"/>
<path d="M360.2,838.1H369.2M1082,838.1H1073"/>
<path d="M360.2,1034.8H369.2M1082,1034.8H1073"/>
<path d="M360.2,1231.5H369.2M1082,1231.5H1073"/>
</g>
<clipPath id="ic"><rect x="358.8" y="757.5" width="724.9" height="476.7"/></clipPath>
<g fill="none" stroke-width="11" stroke-linejoin="round" clip-path="url(#ic)" shape-rendering="crispEdges">
<path stroke="#0072BD" d="M355.8,817.7 L359.4,819.6 L363.0,821.4 L366.6,823.3 L370.2,825.1 L373.7,826.9 L377.3,828.7 L380.9,830.5 L384.5,832.4 L388.1,834.2 L391.7,836.0 L395.3,837.8 L398.9,839.5 L402.5,841.3 L406.1,843.1 L409.8,844.9 L413.4,846.6 L417.0,848.4 L420.6,850.2 L424.2,851.9 L427.9,853.7 L431.5,855.4 L435.1,857.1 L438.7,858.9 L442.4,860.6 L446.0,862.3 L449.7,864.0 L453.3,865.7 L456.9,867.4 L460.6,869.1 L464.2,870.8 L467.9,872.5 L471.5,874.2 L475.2,875.9 L478.9,877.6 L482.5,879.2 L486.2,880.9 L489.8,882.6 L493.5,884.2 L497.2,885.9 L500.8,887.5 L504.5,889.1 L508.2,890.8 L511.9,892.4 L515.5,894.0 L519.2,895.7 L522.9,897.3 L526.6,898.9 L530.3,900.5 L534.0,902.1 L537.7,903.7 L541.4,905.3 L545.1,906.9 L548.8,908.5 L552.5,910.0 L556.2,911.6 L559.9,913.2 L563.6,914.7 L567.3,916.3 L571.0,917.8 L574.7,919.4 L578.4,920.9 L582.1,922.5 L585.9,924.0 L589.6,925.5 L593.3,927.1 L597.0,928.6 L600.8,930.1 L604.5,931.6 L608.2,933.1 L612.0,934.6 L615.7,936.1 L619.4,937.6 L623.2,939.1 L626.9,940.6 L630.6,942.1 L634.4,943.6 L638.1,945.0 L641.9,946.5 L645.6,948.0 L649.4,949.4 L653.1,950.9 L656.9,952.3 L660.6,953.8 L664.4,955.2 L668.2,956.7 L671.9,958.1 L675.7,959.5 L679.4,960.9 L683.2,962.4 L687.0,963.8 L690.7,965.2 L694.5,966.6 L698.3,968.0 L702.1,969.4 L705.8,970.8 L709.6,972.2 L713.4,973.6 L717.2,974.9 L721.0,976.3 L724.7,977.7 L728.5,979.1 L732.3,980.4 L736.1,981.8 L739.9,983.1 L743.7,984.5 L747.5,985.8 L751.3,987.2 L755.1,988.5 L758.9,989.9 L762.7,991.2 L766.5,992.5 L770.3,993.9 L774.1,995.2 L777.9,996.5 L781.7,997.8 L785.5,999.1 L789.3,1000.4 L793.1,1001.7 L796.9,1003.0 L800.7,1004.3 L804.5,1005.6 L808.4,1006.9 L812.2,1008.2 L816.0,1009.4 L819.8,1010.7 L823.6,1012.0 L827.5,1013.3 L831.3,1014.5 L835.1,1015.8 L838.9,1017.0 L842.7,1018.3 L846.6,1019.5 L850.4,1020.8 L854.2,1022.0 L858.1,1023.2 L861.9,1024.5 L865.7,1025.7 L869.6,1026.9 L873.4,1028.1 L877.2,1029.4 L881.1,1030.6 L884.9,1031.8 L888.8,1033.0 L892.6,1034.2 L896.4,1035.4 L900.3,1036.6 L904.1,1037.8 L908.0,1039.0 L911.8,1040.2 L915.7,1041.3 L919.5,1042.5 L923.4,1043.7 L927.2,1044.9 L931.1,1046.0 L934.9,1047.2 L938.8,1048.4 L942.6,1049.5 L946.5,1050.7 L950.3,1051.8 L954.2,1053.0 L958.0,1054.1 L961.9,1055.3 L965.8,1056.4 L969.6,1057.5 L973.5,1058.7 L977.3,1059.8 L981.2,1060.9 L985.1,1062.0 L988.9,1063.1 L992.8,1064.3 L996.7,1065.4 L1000.5,1066.5 L1004.4,1067.6 L1008.3,1068.7 L1012.1,1069.8 L1016.0,1070.9 L1019.9,1072.0 L1023.7,1073.0 L1027.6,1074.1 L1031.5,1075.2 L1035.3,1076.3 L1039.2,1077.4 L1043.1,1078.4 L1047.0,1079.5 L1050.8,1080.6 L1054.7,1081.6 L1058.6,1082.7 L1062.5,1083.8 L1066.3,1084.8 L1070.2,1085.9 L1074.1,1086.9 L1078.0,1088.0 L1081.9,1089.0 L1085.7,1090.0"/>
<path stroke="#FA500A" d="M356.2,811.4 L359.8,813.3 L363.3,815.2 L366.8,817.1 L370.4,819.0 L373.9,820.9 L377.4,822.9 L381.0,824.7 L384.5,826.6 L388.1,828.5 L391.6,830.4 L395.2,832.3 L398.7,834.2 L402.3,836.0 L405.9,837.9 L409.4,839.7 L413.0,841.6 L416.6,843.4 L420.2,845.3 L423.7,847.1 L427.3,848.9 L430.9,850.8 L434.5,852.6 L438.1,854.4 L441.7,856.2 L445.3,858.0 L448.9,859.8 L452.5,861.6 L456.1,863.4 L459.7,865.1 L463.3,866.9 L466.9,868.7 L470.5,870.5 L474.1,872.2 L477.7,874.0 L481.3,875.7 L485.0,877.5 L488.6,879.2 L492.2,880.9 L495.9,882.7 L499.5,884.4 L503.1,886.1 L506.8,887.8 L510.4,889.5 L514.0,891.2 L517.7,892.9 L521.3,894.6 L525.0,896.3 L528.6,898.0 L532.3,899.7 L535.9,901.4 L539.6,903.0 L543.3,904.7 L546.9,906.3 L550.6,908.0 L554.3,909.6 L557.9,911.3 L561.6,912.9 L565.3,914.6 L569.0,916.2 L572.6,917.8 L576.3,919.4 L580.0,921.0 L583.7,922.6 L587.4,924.2 L591.1,925.8 L594.8,927.4 L598.5,929.0 L602.2,930.6 L605.9,932.2 L609.6,933.8 L613.3,935.3 L617.0,936.9 L620.7,938.4 L624.4,940.0 L628.1,941.5 L631.8,943.1 L635.5,944.6 L639.3,946.2 L643.0,947.7 L646.7,949.2 L650.4,950.7 L654.2,952.2 L657.9,953.8 L661.6,955.3 L665.4,956.8 L669.1,958.2 L672.8,959.7 L676.6,961.2 L680.3,962.7 L684.1,964.2 L687.8,965.6 L691.5,967.1 L695.3,968.6 L699.0,970.0 L702.8,971.5 L706.6,972.9 L710.3,974.4 L714.1,975.8 L717.8,977.2 L721.6,978.7 L725.4,980.1 L729.1,981.5 L732.9,982.9 L736.7,984.3 L740.4,985.7 L744.2,987.1 L748.0,988.5 L751.8,989.9 L755.5,991.3 L759.3,992.7 L763.1,994.0 L766.9,995.4 L770.7,996.8 L774.5,998.1 L778.2,999.5 L782.0,1000.8 L785.8,1002.2 L789.6,1003.5 L793.4,1004.9 L797.2,1006.2 L801.0,1007.5 L804.8,1008.9 L808.6,1010.2 L812.4,1011.5 L816.2,1012.8 L820.0,1014.1 L823.8,1015.4 L827.7,1016.7 L831.5,1018.0 L835.3,1019.3 L839.1,1020.6 L842.9,1021.8 L846.7,1023.1 L850.5,1024.4 L854.4,1025.6 L858.2,1026.9 L862.0,1028.2 L865.8,1029.4 L869.7,1030.7 L873.5,1031.9 L877.3,1033.1 L881.1,1034.4 L885.0,1035.6 L888.8,1036.8 L892.6,1038.0 L896.5,1039.3 L900.3,1040.5 L904.2,1041.7 L908.0,1042.9 L911.8,1044.1 L915.7,1045.3 L919.5,1046.5 L923.4,1047.6 L927.2,1048.8 L931.1,1050.0 L934.9,1051.2 L938.8,1052.3 L942.6,1053.5 L946.5,1054.6 L950.3,1055.8 L954.2,1056.9 L958.0,1058.1 L961.9,1059.2 L965.7,1060.4 L969.6,1061.5 L973.5,1062.6 L977.3,1063.7 L981.2,1064.9 L985.1,1066.0 L988.9,1067.1 L992.8,1068.2 L996.6,1069.3 L1000.5,1070.4 L1004.4,1071.5 L1008.3,1072.6 L1012.1,1073.7 L1016.0,1074.7 L1019.9,1075.8 L1023.7,1076.9 L1027.6,1077.9 L1031.5,1079.0 L1035.4,1080.1 L1039.3,1081.1 L1043.1,1082.2 L1047.0,1083.2 L1050.9,1084.3 L1054.8,1085.3 L1058.7,1086.3 L1062.5,1087.4 L1066.4,1088.4 L1070.3,1089.4 L1074.2,1090.4 L1078.1,1091.4 L1082.0,1092.4 L1085.9,1093.4"/>
<path stroke="#FFB000" d="M356.3,812.8 L359.8,814.8 L363.3,816.9 L366.8,818.9 L370.3,820.9 L373.7,823.0 L377.2,825.1 L380.6,827.2 L384.1,829.2 L387.5,831.3 L391.0,833.4 L394.4,835.5 L397.8,837.7 L401.3,839.8 L404.7,841.9 L408.1,844.0 L411.5,846.1 L415.0,848.2 L418.4,850.3 L421.8,852.4 L425.3,854.5 L428.7,856.6 L432.1,858.7 L435.6,860.8 L439.0,862.9 L442.5,865.0 L445.9,867.0 L449.4,869.1 L452.9,871.1 L456.3,873.1 L459.8,875.2 L463.3,877.2 L466.8,879.2 L470.3,881.2 L473.8,883.1 L477.3,885.1 L480.8,887.0 L484.3,889.0 L487.9,890.9 L491.4,892.8 L494.9,894.7 L498.5,896.6 L502.0,898.5 L505.6,900.4 L509.2,902.2 L512.7,904.1 L516.3,905.9 L519.9,907.8 L523.5,909.6 L527.0,911.4 L530.6,913.2 L534.2,915.0 L537.8,916.8 L541.4,918.6 L545.0,920.4 L548.7,922.1 L552.3,923.9 L555.9,925.7 L559.5,927.4 L563.2,929.1 L566.8,930.9 L570.4,932.6 L574.1,934.3 L577.7,936.0 L581.4,937.7 L585.0,939.4 L588.7,941.1 L592.3,942.8 L596.0,944.5 L599.6,946.2 L603.3,947.8 L607.0,949.5 L610.6,951.2 L614.3,952.8 L618.0,954.5 L621.7,956.1 L625.3,957.8 L629.0,959.4 L632.7,961.0 L636.4,962.7 L640.1,964.3 L643.8,965.9 L647.5,967.5 L651.2,969.1 L654.8,970.7 L658.5,972.3 L662.2,973.9 L665.9,975.5 L669.6,977.1 L673.4,978.7 L677.1,980.3 L680.8,981.9 L684.5,983.4 L688.2,985.0 L691.9,986.5 L695.6,988.1 L699.4,989.7 L703.1,991.2 L706.8,992.7 L710.5,994.3 L714.3,995.8 L718.0,997.3 L721.7,998.8 L725.5,1000.3 L729.2,1001.9 L732.9,1003.4 L736.7,1004.9 L740.4,1006.3 L744.2,1007.8 L747.9,1009.3 L751.7,1010.8 L755.4,1012.3 L759.2,1013.7 L762.9,1015.2 L766.7,1016.6 L770.4,1018.1 L774.2,1019.5 L778.0,1021.0 L781.7,1022.4 L785.5,1023.8 L789.3,1025.2 L793.1,1026.6 L796.8,1028.0 L800.6,1029.4 L804.4,1030.8 L808.2,1032.2 L811.9,1033.6 L815.7,1035.0 L819.5,1036.4 L823.3,1037.7 L827.1,1039.1 L830.9,1040.4 L834.7,1041.8 L838.5,1043.1 L842.3,1044.4 L846.1,1045.8 L849.9,1047.1 L853.7,1048.4 L857.5,1049.7 L861.3,1051.0 L865.1,1052.3 L869.0,1053.6 L872.8,1054.9 L876.6,1056.1 L880.4,1057.4 L884.2,1058.7 L888.1,1059.9 L891.9,1061.2 L895.7,1062.4 L899.6,1063.7 L903.4,1064.9 L907.2,1066.1 L911.1,1067.3 L914.9,1068.5 L918.8,1069.7 L922.6,1070.9 L926.4,1072.1 L930.3,1073.3 L934.1,1074.4 L938.0,1075.6 L941.9,1076.8 L945.7,1077.9 L949.6,1079.1 L953.4,1080.2 L957.3,1081.3 L961.2,1082.4 L965.0,1083.6 L968.9,1084.7 L972.8,1085.8 L976.7,1086.8 L980.5,1087.9 L984.4,1089.0 L988.3,1090.1 L992.2,1091.1 L996.1,1092.2 L999.9,1093.2 L1003.8,1094.3 L1007.7,1095.3 L1011.6,1096.3 L1015.5,1097.3 L1019.4,1098.3 L1023.3,1099.3 L1027.2,1100.3 L1031.1,1101.3 L1035.0,1102.3 L1038.9,1103.2 L1042.9,1104.2 L1046.8,1105.1 L1050.7,1106.1 L1054.6,1107.0 L1058.5,1107.9 L1062.4,1108.9 L1066.4,1109.8 L1070.3,1110.7 L1074.2,1111.6 L1078.2,1112.4 L1082.1,1113.3 L1086.0,1114.2"/>
<path stroke="#8E2C90" d="M355.9,848.2 L359.3,850.5 L362.6,852.8 L365.9,855.0 L369.2,857.3 L372.6,859.5 L375.9,861.8 L379.3,864.0 L382.6,866.2 L386.0,868.5 L389.3,870.7 L392.7,872.9 L396.1,875.1 L399.4,877.3 L402.8,879.4 L406.2,881.6 L409.6,883.8 L413.0,885.9 L416.4,888.1 L419.8,890.2 L423.2,892.4 L426.6,894.5 L430.0,896.6 L433.4,898.8 L436.8,900.9 L440.3,903.0 L443.7,905.1 L447.1,907.2 L450.6,909.2 L454.0,911.3 L457.5,913.4 L460.9,915.4 L464.4,917.5 L467.8,919.5 L471.3,921.6 L474.8,923.6 L478.2,925.6 L481.7,927.7 L485.2,929.7 L488.7,931.7 L492.2,933.7 L495.7,935.7 L499.2,937.6 L502.7,939.6 L506.2,941.6 L509.7,943.6 L513.2,945.5 L516.7,947.5 L520.2,949.4 L523.7,951.3 L527.3,953.3 L530.8,955.2 L534.3,957.1 L537.9,959.0 L541.4,960.9 L545.0,962.8 L548.5,964.7 L552.1,966.5 L555.6,968.4 L559.2,970.3 L562.8,972.1 L566.3,974.0 L569.9,975.8 L573.5,977.7 L577.0,979.5 L580.6,981.3 L584.2,983.1 L587.8,984.9 L591.4,986.7 L595.0,988.5 L598.6,990.3 L602.2,992.1 L605.8,993.9 L609.4,995.6 L613.0,997.4 L616.7,999.1 L620.3,1000.9 L623.9,1002.6 L627.5,1004.4 L631.2,1006.1 L634.8,1007.8 L638.4,1009.5 L642.1,1011.2 L645.7,1012.9 L649.4,1014.6 L653.0,1016.3 L656.7,1017.9 L660.3,1019.6 L664.0,1021.3 L667.7,1022.9 L671.3,1024.6 L675.0,1026.2 L678.7,1027.9 L682.3,1029.5 L686.0,1031.1 L689.7,1032.7 L693.4,1034.3 L697.1,1035.9 L700.8,1037.5 L704.5,1039.1 L708.2,1040.7 L711.9,1042.3 L715.6,1043.8 L719.3,1045.4 L723.0,1046.9 L726.7,1048.5 L730.4,1050.0 L734.1,1051.5 L737.8,1053.1 L741.6,1054.6 L745.3,1056.1 L749.0,1057.6 L752.8,1059.1 L756.5,1060.6 L760.2,1062.1 L764.0,1063.6 L767.7,1065.0 L771.5,1066.5 L775.2,1067.9 L779.0,1069.4 L782.7,1070.8 L786.5,1072.3 L790.2,1073.7 L794.0,1075.1 L797.7,1076.5 L801.5,1078.0 L805.3,1079.4 L809.1,1080.8 L812.8,1082.1 L816.6,1083.5 L820.4,1084.9 L824.2,1086.3 L827.9,1087.6 L831.7,1089.0 L835.5,1090.3 L839.3,1091.7 L843.1,1093.0 L846.9,1094.3 L850.7,1095.7 L854.5,1097.0 L858.3,1098.3 L862.1,1099.6 L865.9,1100.9 L869.7,1102.2 L873.5,1103.5 L877.3,1104.7 L881.2,1106.0 L885.0,1107.3 L888.8,1108.5 L892.6,1109.8 L896.4,1111.0 L900.3,1112.2 L904.1,1113.5 L907.9,1114.7 L911.8,1115.9 L915.6,1117.1 L919.4,1118.3 L923.3,1119.5 L927.1,1120.7 L930.9,1121.9 L934.8,1123.1 L938.6,1124.2 L942.5,1125.4 L946.3,1126.6 L950.2,1127.7 L954.0,1128.9 L957.9,1130.0 L961.8,1131.1 L965.6,1132.2 L969.5,1133.4 L973.3,1134.5 L977.2,1135.6 L981.1,1136.7 L984.9,1137.8 L988.8,1138.8 L992.7,1139.9 L996.5,1141.0 L1000.4,1142.1 L1004.3,1143.1 L1008.2,1144.2 L1012.1,1145.2 L1015.9,1146.3 L1019.8,1147.3 L1023.7,1148.3 L1027.6,1149.3 L1031.5,1150.3 L1035.4,1151.4 L1039.2,1152.4 L1043.1,1153.3 L1047.0,1154.3 L1050.9,1155.3 L1054.8,1156.3 L1058.7,1157.3 L1062.6,1158.2 L1066.5,1159.2 L1070.4,1160.1 L1074.3,1161.1 L1078.2,1162.0 L1082.1,1162.9 L1086.0,1163.8"/>
</g>
<g font-family="'Liberation Serif', 'Times New Roman', serif" font-weight="bold" font-size="60.7" fill="#232323">
<text x="425.8" y="1313.3" text-anchor="middle">500</text>
<text x="691.65" y="1313.3" text-anchor="middle">1000</text>
<text x="957.5" y="1313.3" text-anchor="middle">1500</text>
<text x="336.2" y="858.4" text-anchor="end">3.8</text>
<text x="336.2" y="1055.1" text-anchor="end">3.6</text>
<text x="336.2" y="1251.8" text-anchor="end">3.4</text>
</g>
<path d="M534.5,633.5 L364.5,749.5" stroke="#000" stroke-width="3.6" fill="none"/>
<path d="M1029.5,638.5 L1077.5,764" stroke="#000" stroke-width="3.5" fill="none"/>
<rect x="1052.1" y="102.7" width="770.9" height="275.8" fill="#fff" stroke="#232323" stroke-width="3.2"/>
<path d="M1066,141.4H1219" stroke="#0072BD" stroke-width="11"/>
<path d="M1066,207.5H1219" stroke="#FA500A" stroke-width="11"/>
<path d="M1066,273.4H1219" stroke="#FFB000" stroke-width="11"/>
<path d="M1066,339.5H1219" stroke="#8E2C90" stroke-width="11"/>
<g font-family="'Liberation Serif', 'Times New Roman', serif" font-weight="bold" font-size="54.6" fill="#000">
<text x="1230.5" y="162.3">The 5th discharge cycle</text>
<text x="1230.5" y="227.6">The 30th discharge cycle</text>
<text x="1230.5" y="293.4">The 55th discharge cycle</text>
<text x="1230.5" y="358.5">The 80th discharge cycle</text>
</g></svg>
</body></html>
